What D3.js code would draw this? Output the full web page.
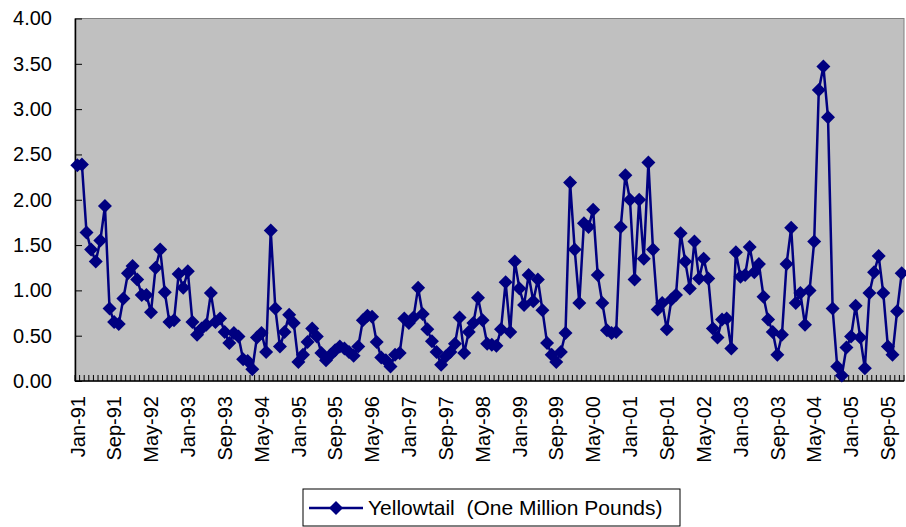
<!DOCTYPE html>
<html>
<head>
<meta charset="utf-8">
<script src="https://cdn.jsdelivr.net/npm/d3@7"></script>
<style>
  html, body { margin: 0; padding: 0; background: #ffffff; }
  svg { display: block; font-family: "Liberation Sans", Arial, sans-serif; }
</style>
</head>
<body>
<svg id="chart" width="906" height="527"></svg>
<script>
// Monthly landings, Jan 1991 - Dec 2005
const monthNames = ["Jan","Feb","Mar","Apr","May","Jun","Jul","Aug","Sep","Oct","Nov","Dec"];
const years = ["91","92","93","94","95","96","97","98","99","00","01","02","03","04","05"];
const categories = [];
years.forEach(yr => monthNames.forEach(m => categories.push(m + "-" + yr)));

// Yellowtail, one million pounds
const yellowtail = [
  2.38, 2.39, 1.64, 1.45, 1.32, 1.55, 1.93, 0.80, 0.65, 0.63, 0.91, 1.19,
  1.27, 1.12, 0.95, 0.95, 0.76, 1.25, 1.45, 0.98, 0.65, 0.67, 1.18, 1.03,
  1.21, 0.65, 0.51, 0.58, 0.62, 0.97, 0.65, 0.69, 0.54, 0.42, 0.53, 0.49,
  0.24, 0.22, 0.13, 0.48, 0.53, 0.32, 1.66, 0.80, 0.38, 0.54, 0.73, 0.64,
  0.21, 0.29, 0.43, 0.58, 0.49, 0.31, 0.23, 0.29, 0.34, 0.38, 0.36, 0.32,
  0.28, 0.38, 0.67, 0.72, 0.71, 0.43, 0.26, 0.23, 0.16, 0.29, 0.31, 0.69,
  0.64, 0.70, 1.03, 0.74, 0.57, 0.44, 0.32, 0.18, 0.27, 0.32, 0.41, 0.70,
  0.31, 0.54, 0.64, 0.92, 0.67, 0.41, 0.40, 0.39, 0.57, 1.09, 0.54, 1.32,
  1.02, 0.84, 1.17, 0.88, 1.12, 0.78, 0.42, 0.29, 0.21, 0.32, 0.53, 2.19,
  1.45, 0.86, 1.74, 1.70, 1.89, 1.17, 0.86, 0.56, 0.53, 0.54, 1.70, 2.27,
  2.00, 1.12, 2.00, 1.35, 2.41, 1.45, 0.79, 0.86, 0.57, 0.90, 0.95, 1.63,
  1.32, 1.02, 1.54, 1.13, 1.35, 1.13, 0.58, 0.48, 0.68, 0.69, 0.36, 1.42,
  1.15, 1.17, 1.48, 1.20, 1.29, 0.93, 0.68, 0.54, 0.29, 0.51, 1.29, 1.69,
  0.86, 0.97, 0.62, 1.00, 1.54, 3.21, 3.47, 2.91, 0.80, 0.16, 0.06, 0.37,
  0.49, 0.83, 0.48, 0.14, 0.97, 1.20, 1.38, 0.97, 0.38, 0.29, 0.77, 1.19
];

const yTicks = [0, 0.5, 1, 1.5, 2, 2.5, 3, 3.5, 4];
const xTickLabels = categories.filter((c, i) => i % 8 === 0);
const seriesName = "Yellowtail  (One Million Pounds)";

const plot = { left: 75, right: 904, top: 18.5, bottom: 381 };
const navy = "#000080";

const svg = d3.select("#chart");

const x = d3.scaleBand().domain(categories).range([plot.left, plot.right]).padding(0);
const y = d3.scaleLinear().domain([0, 4]).range([plot.bottom, plot.top]);
const cx = c => x(c) + x.bandwidth() / 2;

// plot area
svg.append("rect")
  .attr("x", plot.left).attr("y", plot.top)
  .attr("width", plot.right - plot.left).attr("height", plot.bottom - plot.top)
  .attr("fill", "#c0c0c0").attr("stroke", "#808080").attr("stroke-width", 1);

// y axis with inward ticks
const yAxis = svg.append("g")
  .attr("transform", `translate(${plot.left},0)`)
  .call(d3.axisLeft(y).tickValues(yTicks).tickFormat(d3.format(".2f"))
    .tickSizeInner(-7).tickSizeOuter(0).tickPadding(23));
yAxis.select(".domain").attr("stroke", "#000").attr("stroke-width", 1.5);
yAxis.selectAll(".tick line").attr("stroke", "#000");
yAxis.selectAll(".tick text").attr("font-size", 20).attr("fill", "#000")
  .attr("font-family", "'Liberation Sans', Arial, sans-serif");

// x axis: minor tick at every month boundary
const xAxis = svg.append("g").attr("transform", `translate(0,${plot.bottom})`);
const boundaries = categories.map(c => x(c)).concat([plot.right]);
xAxis.selectAll("line.mtick").data(boundaries).join("line")
  .attr("class", "mtick")
  .attr("x1", d => d).attr("x2", d => d)
  .attr("y1", 0).attr("y2", -6)
  .attr("stroke", "#000").attr("stroke-width", 1);
xAxis.append("line")
  .attr("x1", plot.left).attr("x2", plot.right)
  .attr("y1", 0).attr("y2", 0)
  .attr("stroke", "#000").attr("stroke-width", 1.5);

// rotated month labels
const xLabels = svg.append("g").attr("transform", `translate(0,${plot.bottom})`)
  .call(d3.axisBottom(x).tickValues(xTickLabels).tickSize(0).tickPadding(0));
xLabels.select(".domain").remove();
xLabels.selectAll(".tick text")
  .attr("font-size", 20).attr("fill", "#000")
  .attr("font-family", "'Liberation Sans', Arial, sans-serif")
  .attr("transform", "rotate(-90)")
  .attr("text-anchor", "end")
  .attr("x", -15).attr("y", 0).attr("dy", "0.36em");

// series line
const line = d3.line()
  .x((d, i) => cx(categories[i]))
  .y(d => y(d));
svg.append("path")
  .datum(yellowtail)
  .attr("d", line)
  .attr("fill", "none")
  .attr("stroke", navy)
  .attr("stroke-width", 2.5)
  .attr("stroke-linejoin", "round");

// diamond markers
const diamond = "M0,-7L7,0L0,7L-7,0Z";
svg.append("g").selectAll("path")
  .data(yellowtail)
  .join("path")
  .attr("d", diamond)
  .attr("transform", (d, i) => `translate(${cx(categories[i])},${y(d)})`)
  .attr("fill", navy);

// legend
const legend = svg.append("g").attr("transform", "translate(303,489)");
legend.append("rect")
  .attr("x", 0).attr("y", 0).attr("width", 377).attr("height", 37)
  .attr("fill", "#fff").attr("stroke", "#000").attr("stroke-width", 1);
legend.append("line")
  .attr("x1", 6).attr("x2", 60).attr("y1", 19).attr("y2", 19)
  .attr("stroke", navy).attr("stroke-width", 2.5);
legend.append("path")
  .attr("d", diamond)
  .attr("transform", "translate(33,19)")
  .attr("fill", navy);
legend.append("text")
  .attr("x", 65).attr("y", 19).attr("dy", "0.35em")
  .attr("font-size", 21).attr("fill", "#000")
  .style("white-space", "pre")
  .text(seriesName);
</script>
</body>
</html>
